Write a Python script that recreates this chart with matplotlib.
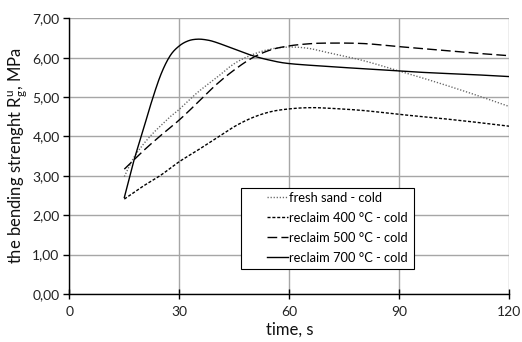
import numpy as np
import matplotlib
matplotlib.use("Agg")
import matplotlib.pyplot as plt
from matplotlib.patches import Rectangle
from matplotlib.ticker import FuncFormatter, MultipleLocator

plt.rcParams['font.family'] = ['Lato', 'DejaVu Sans']
plt.rcParams['mathtext.fontset'] = 'custom'
plt.rcParams['mathtext.rm'] = 'Lato'
plt.rcParams['mathtext.it'] = 'Lato'

# ---- data ----
t_fresh = [15, 17.5, 20, 22.5, 25, 27.5, 30, 35, 40, 45, 50, 55, 60, 65, 70, 80, 90, 100, 110, 120]
v_fresh = [2.98, 3.45, 3.78, 4.05, 4.28, 4.50, 4.69, 5.12, 5.48, 5.85, 6.08, 6.22, 6.27, 6.24, 6.14, 5.93, 5.66, 5.38, 5.08, 4.76]

t_400 = [15, 20, 25, 30, 35, 40, 45, 50, 55, 60, 65, 70, 80, 90, 100, 110, 120]
v_400 = [2.41, 2.73, 3.02, 3.36, 3.65, 3.95, 4.25, 4.48, 4.63, 4.70, 4.73, 4.72, 4.66, 4.56, 4.47, 4.37, 4.26]

t_500 = [15, 20, 25, 30, 35, 40, 45, 50, 55, 60, 65, 70, 80, 90, 100, 110, 120]
v_500 = [3.17, 3.62, 4.03, 4.42, 4.86, 5.31, 5.69, 6.00, 6.20, 6.30, 6.35, 6.37, 6.36, 6.28, 6.20, 6.12, 6.05]

t_700 = [15, 17.5, 20, 22.5, 25, 27.5, 30, 32.5, 35, 37.5, 40, 45, 50, 55, 60, 70, 80, 90, 100, 110, 120]
v_700 = [2.45, 3.35, 4.12, 4.90, 5.58, 6.05, 6.30, 6.43, 6.47, 6.45, 6.39, 6.22, 6.05, 5.93, 5.85, 5.78, 5.72, 5.66, 5.61, 5.57, 5.52]

labels = ["fresh sand - cold", "reclaim 400 °C - cold", "reclaim 500 °C - cold", "reclaim 700 °C - cold"]
x_ticks = [0, 30, 60, 90, 120]


def smooth(xs, ys, n=20):
    """Catmull-Rom (Excel-like) smoothing for rendering."""
    xs = np.asarray(xs, float)
    ys = np.asarray(ys, float)
    P = np.column_stack([xs, ys])
    P = np.vstack([P[0], P, P[-1]])
    out = []
    for i in range(1, len(P) - 2):
        p0, p1, p2, p3 = P[i - 1], P[i], P[i + 1], P[i + 2]
        c1 = p1 + (p2 - p0) / 6.0
        c2 = p2 - (p3 - p1) / 6.0
        tt = np.linspace(0, 1, n, endpoint=False)[:, None]
        b = ((1 - tt) ** 3) * p1 + 3 * ((1 - tt) ** 2) * tt * c1 + 3 * (1 - tt) * tt ** 2 * c2 + tt ** 3 * p2
        out.append(b)
    out.append(P[-2][None, :])
    out = np.vstack(out)
    return out[:, 0], out[:, 1]


fig = plt.figure(figsize=(5.22, 3.42), dpi=100)
ax = fig.add_axes([0.1328, 0.1404, 0.8429, 0.8061])

styles = [
    dict(color='#666666', linestyle=(0, (0.9, 1.3)), lw=1.0),
    dict(color='black', linestyle=(0, (2.2, 1.3)), lw=1.0),
    dict(color='black', linestyle=(0, (7, 3)), lw=1.0),
    dict(color='black', linestyle='-', lw=1.0),
]
series = [(t_fresh, v_fresh), (t_400, v_400), (t_500, v_500), (t_700, v_700)]
handles = []
for (tx, vy), st, lab in zip(series, styles, labels):
    sx, sy = smooth(tx, vy)
    h, = ax.plot(sx, sy, label=lab, zorder=3, **st)
    handles.append(h)

ax.set_xlim(0, 120)
ax.set_ylim(0, 7)
ax.set_xticks(x_ticks)
ax.yaxis.set_major_locator(MultipleLocator(1))
ax.yaxis.set_major_formatter(FuncFormatter(lambda v, p: f"{v:.2f}".replace('.', ',')))
ax.grid(True, color='#a6a6a6', lw=1.0, zorder=0)
ax.set_axisbelow(True)
for s in ['top', 'right']:
    ax.spines[s].set_visible(False)
ax.spines['left'].set_color('black')
ax.spines['bottom'].set_color('black')
ax.spines['left'].set_linewidth(1.0)
ax.spines['bottom'].set_linewidth(1.0)
ax.tick_params(axis='y', direction='out', length=4, width=1, labelsize=10, pad=3, colors='black')
ax.tick_params(axis='x', direction='inout', length=7, width=1, labelsize=10, pad=5, colors='black')
for lab in ax.get_xticklabels() + ax.get_yticklabels():
    lab.set_color('#222222')

ax.set_xlabel("time, s", fontsize=12, labelpad=3, color='#111111')
ax.set_ylabel(r"the bending strenght R$_{\mathregular{g}}^{\mathregular{u}}$, MPa", fontsize=12,
              labelpad=2, color='#111111')

# legend frame
x0 = 0.390; y0 = 0.0896; x1 = 0.7839; y1 = 0.383
ax.add_patch(Rectangle((x0, y0), x1 - x0, y1 - y0, transform=ax.transAxes,
                       facecolor='white', edgecolor='black', lw=0.8, zorder=5))
leg = ax.legend(handles=handles, loc='upper left', bbox_to_anchor=(0.440, 0.383 + 0.004),
                frameon=False, fontsize=9.3, handlelength=1.6, handletextpad=0.1,
                labelspacing=0.62, borderpad=0.35, borderaxespad=0)
leg.set_zorder(6)

fig.savefig("out.png", dpi=100)
